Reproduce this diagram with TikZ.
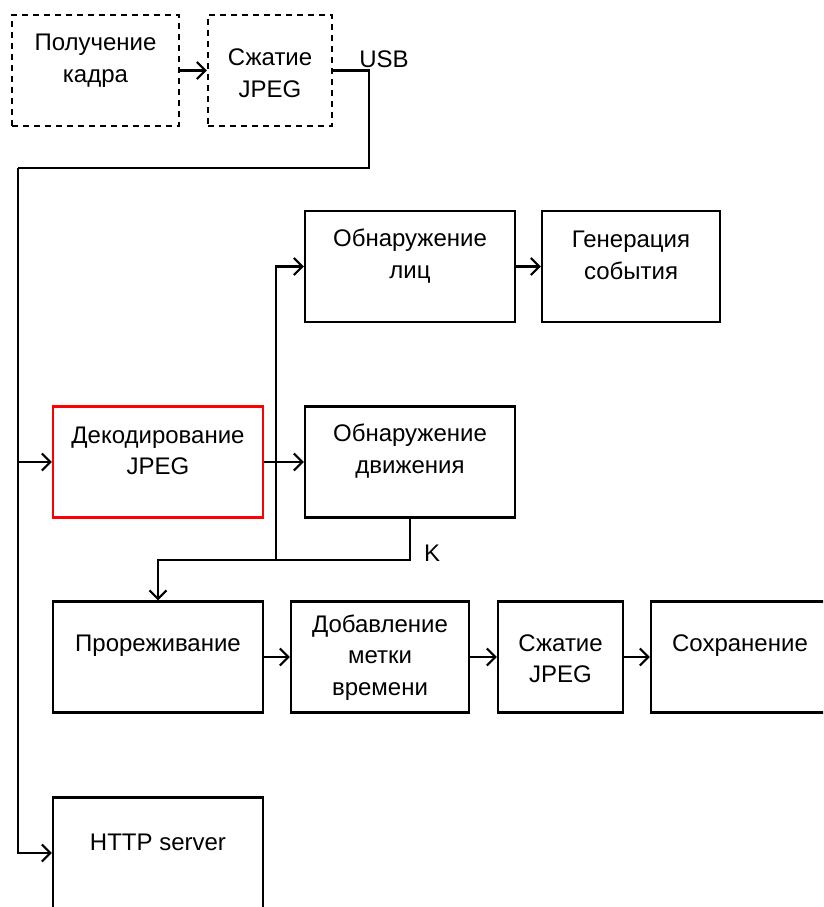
\documentclass[tikz,border=0pt]{standalone}
\usepackage{fontspec}
\setmainfont{Liberation Sans}
\usetikzlibrary{arrows.meta}
\begin{document}
\begin{tikzpicture}[x=1pt,y=-1pt,
  box/.style={draw=black,line width=2.2pt,minimum height=111pt,inner sep=0pt},
  dbox/.style={box,dash pattern=on 6pt off 5pt},
  rbox/.style={box,draw=red},
  txt/.style={align=center,inner sep=0pt,font=\fontsize{24}{31.5}\selectfont},
  lbl/.style={inner sep=0pt,font=\fontsize{24}{24}\selectfont},
  con/.style={line width=2.2pt},
  arr/.style={con,-{Straight Barb[length=8.5pt,width=17pt,line width=2.2pt]}}]
\useasboundingbox (0,0) rectangle (823,907);
\clip (0,0) rectangle (823,907);
\fill[white] (0,0) rectangle (823,907);
% boxes
\node[dbox,minimum width=167pt] (pk) at (95.5,70.5) {};
\node[dbox,minimum width=124pt] (sz) at (270,70.5) {};
\node[box,minimum width=210pt] (ol) at (410,266.5) {};
\node[box,minimum width=178pt] (ge) at (631,266.5) {};
\node[rbox,minimum width=210pt] (dek) at (158,462) {};
\node[box,minimum width=210pt] (od) at (410,462) {};
\node[box,minimum width=210pt] (pr) at (158,657) {};
\node[box,minimum width=178pt] (db) at (380,657) {};
\node[box,minimum width=125pt] (sz2) at (560.5,657) {};
\node[box,minimum width=178pt] (so) at (740,657) {};
\node[box,minimum width=210pt] (http) at (158,853) {};
% texts
\node[txt] (tpk) at (95.5,60.5) {Получение\\кадра};
\node[txt] (tsz) at (270,73) {Сжатие\\JPEG};
\node[txt] (tol) at (410,256) {Обнаружение\\лиц};
\node[txt] (tge) at (631,255.5) {Генерация\\события};
\node[txt] (tdek) at (158,451) {Декодирование\\JPEG};
\node[txt] (tod) at (410,451) {Обнаружение\\движения};
\node[txt] (tpr) at (158,646) {Прореживание};
\node[txt] (tdb) at (380,657.5) {Добавление\\метки\\времени};
\node[txt] (tsz2) at (560.5,658.5) {Сжатие\\JPEG};
\node[txt] (tso) at (740,646) {Сохранение};
\node[txt] (thttp) at (158,842) {HTTP server};
\node[lbl] (usb) at (384,59) {USB};
\node[lbl] (k) at (432,553) {K};
% junctions
\coordinate (c1) at (369,168);
\coordinate (c2) at (18,168);
\coordinate (j1) at (276,560);
\coordinate (j2) at (158,560);
% connectors
\draw[arr] (pk) -- (sz);
\draw[con] (sz.east) -| (c1) -- (c2);
\draw[arr] (c2) |- (http.west);
\draw[arr] (c2) |- (dek.west);
\draw[arr] (dek) -- (od);
\draw[arr] (j1) |- (ol.west);
\draw[arr] (ol) -- (ge);
\draw[arr] (od.south) |- (j2) -- (pr.north);
\draw[arr] (pr) -- (db);
\draw[arr] (db) -- (sz2);
\draw[arr] (sz2) -- (so);
\end{tikzpicture}
\end{document}
